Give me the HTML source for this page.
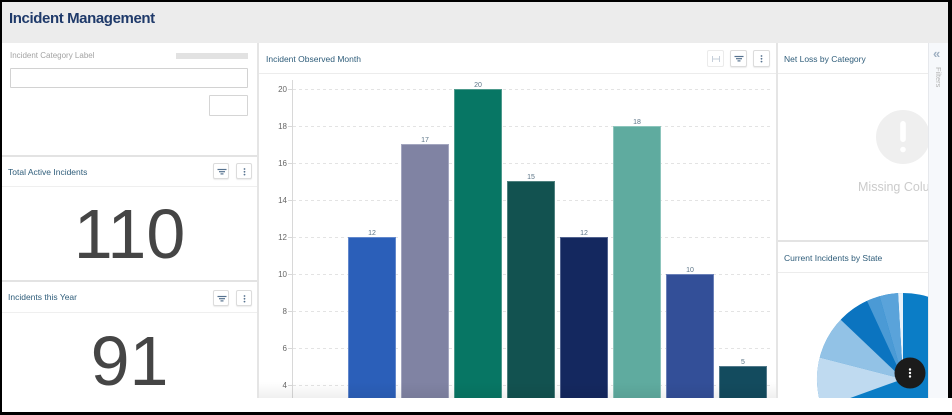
<!DOCTYPE html>
<html><head><meta charset="utf-8">
<style>
*{margin:0;padding:0;box-sizing:border-box}
html,body{width:952px;height:415px;overflow:hidden;background:#000}
body{position:relative;font-family:"Liberation Sans",Arial,sans-serif}
.a{position:absolute}
.t{position:absolute;font-size:8.5px;line-height:8.5px;color:#2f5d7a;white-space:nowrap}
.btn{position:absolute;width:16px;height:16px;border:1px solid #dcdcdc;border-radius:2px;background:#fff;box-shadow:0 1px 1px rgba(0,0,0,.08)}
.btn svg{position:absolute;left:0;top:0}
.big{position:absolute;left:2px;width:255px;text-align:center;font-size:70px;line-height:70px;height:70px;color:#454545}
</style></head><body>
<div class="a" style="left:2px;top:2px;width:946px;height:396px;background:#fff;border-bottom-right-radius:5px"></div>
<div class="a" style="left:2px;top:398px;width:950px;height:14px;background:#fff"></div>

<div class="a" style="left:2px;top:2px;width:946px;height:41px;background:#ececec"></div>
<div class="a" style="left:9px;top:10.6px;font-size:15px;line-height:15px;font-weight:bold;color:#1f3a6a;letter-spacing:-0.4px;white-space:nowrap">Incident Management</div>

<div class="a" style="left:257px;top:43px;width:2px;height:355px;background:#e5e5e5"></div>
<div class="a" style="left:2px;top:155px;width:255px;height:2px;background:#e3e3e3"></div>
<div class="a" style="left:2px;top:186px;width:255px;height:1px;background:#efefef"></div>
<div class="a" style="left:2px;top:280px;width:255px;height:2px;background:#e3e3e3"></div>
<div class="a" style="left:2px;top:312px;width:255px;height:1px;background:#efefef"></div>
<div class="a" style="left:259px;top:73px;width:517px;height:1px;background:#ececec"></div>
<div class="a" style="left:776px;top:43px;width:2px;height:355px;background:#e5e5e5"></div>
<div class="a" style="left:778px;top:73px;width:150px;height:1px;background:#ececec"></div>
<div class="a" style="left:778px;top:240px;width:150px;height:2px;background:#e3e3e3"></div>
<div class="a" style="left:778px;top:272px;width:150px;height:1px;background:#ececec"></div>

<div class="a" style="left:10px;top:52px;font-size:8px;line-height:8px;color:#a3a3a3;white-space:nowrap">Incident Category Label</div>
<div class="a" style="left:176px;top:53px;width:72px;height:6px;background:#e2e2e2"></div>
<div class="a" style="left:10px;top:68px;width:238px;height:20px;border:1px solid #d2d2d2;border-radius:1px"></div>
<div class="a" style="left:209px;top:95px;width:39px;height:21px;border:1px solid #d5d5d5;border-radius:1px"></div>

<div class="t" style="left:8px;top:168px">Total Active Incidents</div>
<div class="btn" style="left:213px;top:163px"><svg width="16" height="16"><g stroke="#56728f" stroke-width="1.2"><line x1="3.5" y1="5.5" x2="12.5" y2="5.5"/><line x1="5" y1="7.7" x2="11" y2="7.7"/><line x1="6.5" y1="9.9" x2="9.5" y2="9.9"/></g></svg></div>
<div class="btn" style="left:236px;top:163px"><svg width="16" height="16"><g fill="#56728f"><circle cx="7.5" cy="5" r="0.9"/><circle cx="7.5" cy="7.8" r="0.9"/><circle cx="7.5" cy="10.6" r="0.9"/></g></svg></div>
<div class="big" style="top:199px">110</div>

<div class="t" style="left:8px;top:293px">Incidents this Year</div>
<div class="btn" style="left:213px;top:290px"><svg width="16" height="16"><g stroke="#56728f" stroke-width="1.2"><line x1="3.5" y1="5.5" x2="12.5" y2="5.5"/><line x1="5" y1="7.7" x2="11" y2="7.7"/><line x1="6.5" y1="9.9" x2="9.5" y2="9.9"/></g></svg></div>
<div class="btn" style="left:236px;top:290px"><svg width="16" height="16"><g fill="#56728f"><circle cx="7.5" cy="5" r="0.9"/><circle cx="7.5" cy="7.8" r="0.9"/><circle cx="7.5" cy="10.6" r="0.9"/></g></svg></div>
<div class="big" style="top:325.7px">91</div>

<div class="t" style="left:266px;top:54.5px">Incident Observed Month</div>
<div class="btn" style="left:707px;top:50px;width:17px;height:17px;border-color:#ebebeb;box-shadow:none"><svg width="16" height="16"><g stroke="#c6cfda" stroke-width="1"><line x1="4.5" y1="5" x2="4.5" y2="11"/><line x1="11.5" y1="5" x2="11.5" y2="11"/><line x1="5" y1="8" x2="11" y2="8"/></g></svg></div>
<div class="btn" style="left:730px;top:50px;width:17px;height:17px"><svg width="16" height="16"><g stroke="#56728f" stroke-width="1.2"><line x1="3.5" y1="5.5" x2="12.5" y2="5.5"/><line x1="5" y1="7.7" x2="11" y2="7.7"/><line x1="6.5" y1="9.9" x2="9.5" y2="9.9"/></g></svg></div>
<div class="btn" style="left:753px;top:50px;width:17px;height:17px"><svg width="16" height="16"><g fill="#56728f"><circle cx="7.5" cy="5" r="0.9"/><circle cx="7.5" cy="7.8" r="0.9"/><circle cx="7.5" cy="10.6" r="0.9"/></g></svg></div>

<div class="t" style="left:784px;top:54.5px">Net Loss by Category</div>
<div class="t" style="left:784px;top:253.5px">Current Incidents by State</div>

<svg class="a" style="left:0;top:0;display:block" width="952" height="398" viewBox="0 0 952 398" font-family="Liberation Sans, Arial, sans-serif">
 <defs>
  <clipPath id="pc"><rect x="778" y="273" width="150" height="125"/></clipPath>
  <clipPath id="nc"><rect x="778" y="74" width="150" height="166"/></clipPath>
  <linearGradient id="fd" x1="0" y1="0" x2="0" y2="1"><stop offset="0" stop-color="#000" stop-opacity="0"/><stop offset="1" stop-color="#000" stop-opacity="0.06"/></linearGradient>
 </defs>
 <g stroke="#e3e3e3" stroke-width="1" stroke-dasharray="3,3">
  <line x1="293" y1="89.5" x2="770" y2="89.5"/>
  <line x1="293" y1="126.5" x2="770" y2="126.5"/>
  <line x1="293" y1="163.5" x2="770" y2="163.5"/>
  <line x1="293" y1="200.5" x2="770" y2="200.5"/>
  <line x1="293" y1="237.5" x2="770" y2="237.5"/>
  <line x1="293" y1="274.5" x2="770" y2="274.5"/>
  <line x1="293" y1="311.5" x2="770" y2="311.5"/>
  <line x1="293" y1="348.5" x2="770" y2="348.5"/>
  <line x1="293" y1="385.5" x2="770" y2="385.5"/>
 </g>
 <g stroke="#d8d8d8" stroke-width="1">
  <line x1="292.5" y1="80" x2="292.5" y2="398"/>
  <line x1="288" y1="89.5" x2="292" y2="89.5"/><line x1="288" y1="126.5" x2="292" y2="126.5"/>
  <line x1="288" y1="163.5" x2="292" y2="163.5"/><line x1="288" y1="200.5" x2="292" y2="200.5"/>
  <line x1="288" y1="237.5" x2="292" y2="237.5"/><line x1="288" y1="274.5" x2="292" y2="274.5"/>
  <line x1="288" y1="311.5" x2="292" y2="311.5"/><line x1="288" y1="348.5" x2="292" y2="348.5"/>
  <line x1="288" y1="385.5" x2="292" y2="385.5"/>
 </g>
 <g font-size="8" fill="#666" text-anchor="end">
  <text x="287" y="92">20</text><text x="287" y="129">18</text><text x="287" y="166">16</text>
  <text x="287" y="203">14</text><text x="287" y="240">12</text><text x="287" y="277">10</text>
  <text x="287" y="314">8</text><text x="287" y="351">6</text><text x="287" y="388">4</text>
 </g>
 <g stroke-width="1">
  <rect x="348.5" y="237.5" width="47" height="162" fill="#2b5fb9" stroke="#6288cc"/>
  <rect x="401.5" y="144.5" width="47" height="255" fill="#8083a3" stroke="#a3a6bf"/>
  <rect x="454.5" y="89.5" width="47" height="310" fill="#077664" stroke="#4d9a8c"/>
  <rect x="507.5" y="181.5" width="47" height="218" fill="#125250" stroke="#4f807e"/>
  <rect x="560.5" y="237.5" width="47" height="162" fill="#14285f" stroke="#51628e"/>
  <rect x="613.5" y="126.5" width="47" height="273" fill="#5fab9f" stroke="#8cc5bc"/>
  <rect x="666.5" y="274.5" width="47" height="125" fill="#334f98" stroke="#6a80b8"/>
  <rect x="719.5" y="366.5" width="47" height="33" fill="#134b5e" stroke="#52798a"/>
 </g>
 <g font-size="7" fill="#5b7486" text-anchor="middle">
  <text x="372" y="235">12</text><text x="425" y="142">17</text><text x="478" y="87">20</text>
  <text x="531" y="179">15</text><text x="584" y="235">12</text><text x="637" y="124">18</text>
  <text x="690" y="272">10</text><text x="743" y="364">5</text>
 </g>
 <rect x="259" y="382" width="517" height="16" fill="url(#fd)"/>
 <g clip-path="url(#nc)">
  <circle cx="903" cy="137" r="27" fill="#efefef"/>
  <rect x="900.2" y="121" width="5.6" height="21" rx="2.8" fill="#fff"/>
  <circle cx="903" cy="149.5" r="2.8" fill="#fff"/>
  <text x="858" y="191" font-size="12.5" fill="#cbcbcb">Missing Column</text>
 </g>
 <g clip-path="url(#pc)">
  <circle cx="903" cy="379" r="86" fill="#0b7dc6"/>
  <path d="M903 379 L903 293 A86 86 0 0 0 898.05 293.15 Z" fill="#e9f2fa"/>
  <path d="M903 379 L898.05 293.15 A86 86 0 0 0 879.58 296.25 Z" fill="#5aa3da"/>
  <path d="M903 379 L879.58 296.25 A86 86 0 0 0 866.92 300.93 Z" fill="#4b9ad5"/>
  <path d="M903 379 L866.92 300.93 A86 86 0 0 0 840.72 319.69 Z" fill="#0b74c0"/>
  <path d="M903 379 L840.72 319.69 A86 86 0 0 0 819.74 357.47 Z" fill="#92c2e6"/>
  <path d="M903 379 L819.74 357.47 A86 86 0 0 0 822.08 408.13 Z" fill="#bfdaf0"/>
 </g>
 <circle cx="910" cy="373" r="15.5" fill="#1b1b1b"/>
 <g fill="#fff"><circle cx="910" cy="369.5" r="1.2"/><circle cx="910" cy="373" r="1.2"/><circle cx="910" cy="376.5" r="1.2"/></g>
</svg>

<div class="a" style="left:928px;top:43px;width:20px;height:355px;background:#f6f8fb;border-left:1px solid #e6e8ec"></div>
<div class="a" style="left:933px;top:47px;font-size:13px;line-height:13px;font-weight:bold;color:#9fb0c2">«</div>
<div class="a" style="left:942px;top:67px;font-size:7.5px;line-height:8px;color:#b3b3b3;transform:rotate(90deg);transform-origin:left top;white-space:nowrap">Filters</div>
</body></html>
